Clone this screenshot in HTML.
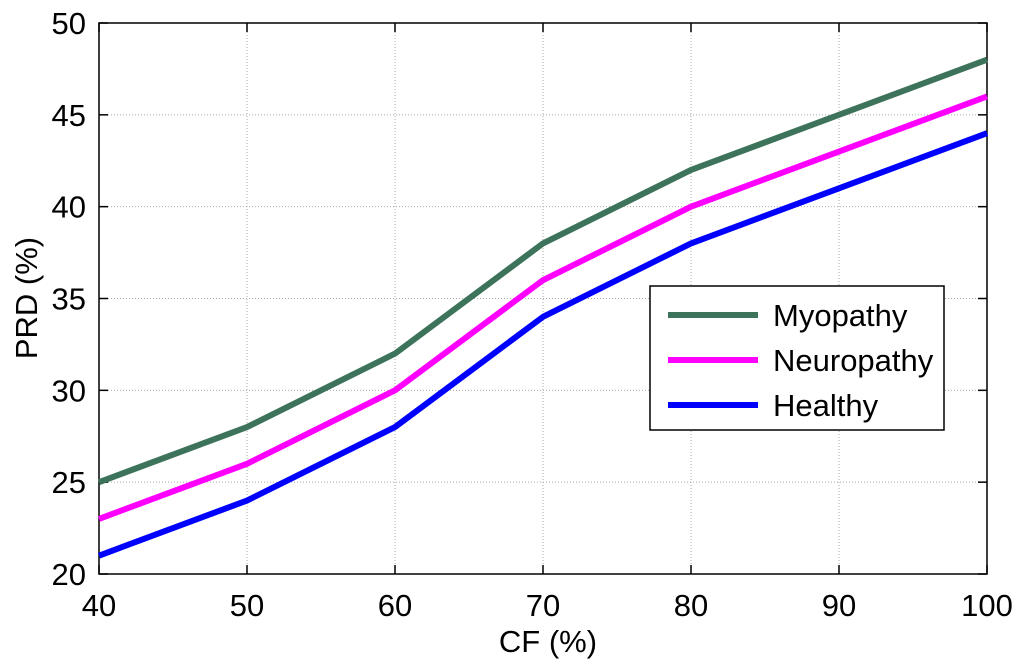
<!DOCTYPE html>
<html><head><meta charset="utf-8"><style>
html,body{margin:0;padding:0;background:#fff;}
svg{display:block;font-family:"Liberation Sans",sans-serif;}
</style></head><body>
<svg id="chart" width="1024" height="669" xmlns="http://www.w3.org/2000/svg"></svg>
<script>
const categories = [40, 50, 60, 70, 80, 90, 100];
const myopathy = [25, 28, 32, 38, 42, 45, 48];
const neuropathy = [23, 26, 30, 36, 40, 43, 46];
const healthy = [21, 24, 28, 34, 38, 41, 44];
const xTicks = [40, 50, 60, 70, 80, 90, 100];
const yTicks = [20, 25, 30, 35, 40, 45, 50];
const seriesNames = ["Myopathy", "Neuropathy", "Healthy"];
const seriesColors = ["#3c735a", "#ff00ff", "#0000ff"];

const L=99, R=987, T=23, B=574, FS=31;
const x = v => L + (v-40)/60*(R-L);
const y = v => B - (v-20)/30*(B-T);
const NS="http://www.w3.org/2000/svg";
const svg=document.getElementById('chart');
function mk(tag, attrs, parent){const e=document.createElementNS(NS,tag);for(const k in attrs)e.setAttribute(k,attrs[k]);(parent||svg).appendChild(e);return e;}

const grid=mk('g',{});


xTicks.forEach(t=>{
  if(t>40&&t<100){const g=mk('line',{x1:x(t),x2:x(t),y1:T,y2:B,stroke:'#aaa','stroke-width':1,'stroke-dasharray':'1,2'},grid);
  }
  mk('line',{x1:x(t),x2:x(t),y1:B,y2:B-9,stroke:'#000','stroke-width':1.5},grid);
  mk('line',{x1:x(t),x2:x(t),y1:T,y2:T+9,stroke:'#000','stroke-width':1.5},grid);
  const lb=mk('text',{x:x(t),y:616,'font-size':FS,'text-anchor':'middle',fill:'#000'});
  lb.textContent=t;
  
  
});
yTicks.forEach(t=>{
  if(t>20&&t<50){const g=mk('line',{x1:L,x2:R,y1:y(t),y2:y(t),stroke:'#aaa','stroke-width':1,'stroke-dasharray':'1,2'},grid);
  }
  mk('line',{x1:L,x2:L+9,y1:y(t),y2:y(t),stroke:'#000','stroke-width':1.5},grid);
  mk('line',{x1:R,x2:R-9,y1:y(t),y2:y(t),stroke:'#000','stroke-width':1.5},grid);
  const lb=mk('text',{x:86,y:y(t)+11,'font-size':FS,'text-anchor':'end',fill:'#000'});
  lb.textContent=t;
  
  
});
const frame=mk('rect',{x:L,y:T,width:R-L,height:B-T,fill:'none',stroke:'#000','stroke-width':1.5});



[myopathy,neuropathy,healthy].forEach((s,i)=>{
  const p=mk('polyline',{points:s.map((v,j)=>x(categories[j])+','+y(v)).join(' '),fill:'none',stroke:seriesColors[i],'stroke-width':6,'stroke-linejoin':'round'});
  
  
});

const xt=mk('text',{x:548,y:652,'font-size':FS,'text-anchor':'middle',fill:'#000'});
xt.textContent='CF (%)';


const yt=mk('text',{x:0,y:0,'font-size':FS,'text-anchor':'middle',fill:'#000',transform:'translate(37,298) rotate(-90)'});
yt.textContent='PRD (%)';



const lg=mk('g',{});


mk('rect',{x:650,y:286,width:294,height:144,fill:'#fff',stroke:'#000','stroke-width':1.5},lg);
seriesNames.forEach((n,i)=>{
  const yy=315+i*45;
  const ln=mk('line',{x1:668,x2:758,y1:yy,y2:yy,stroke:seriesColors[i],'stroke-width':6},lg);
  
  
  const tx=mk('text',{x:773,y:yy+11,'font-size':FS,fill:'#000'},lg);
  tx.textContent=n;
  
  
});
</script>
</body></html>
